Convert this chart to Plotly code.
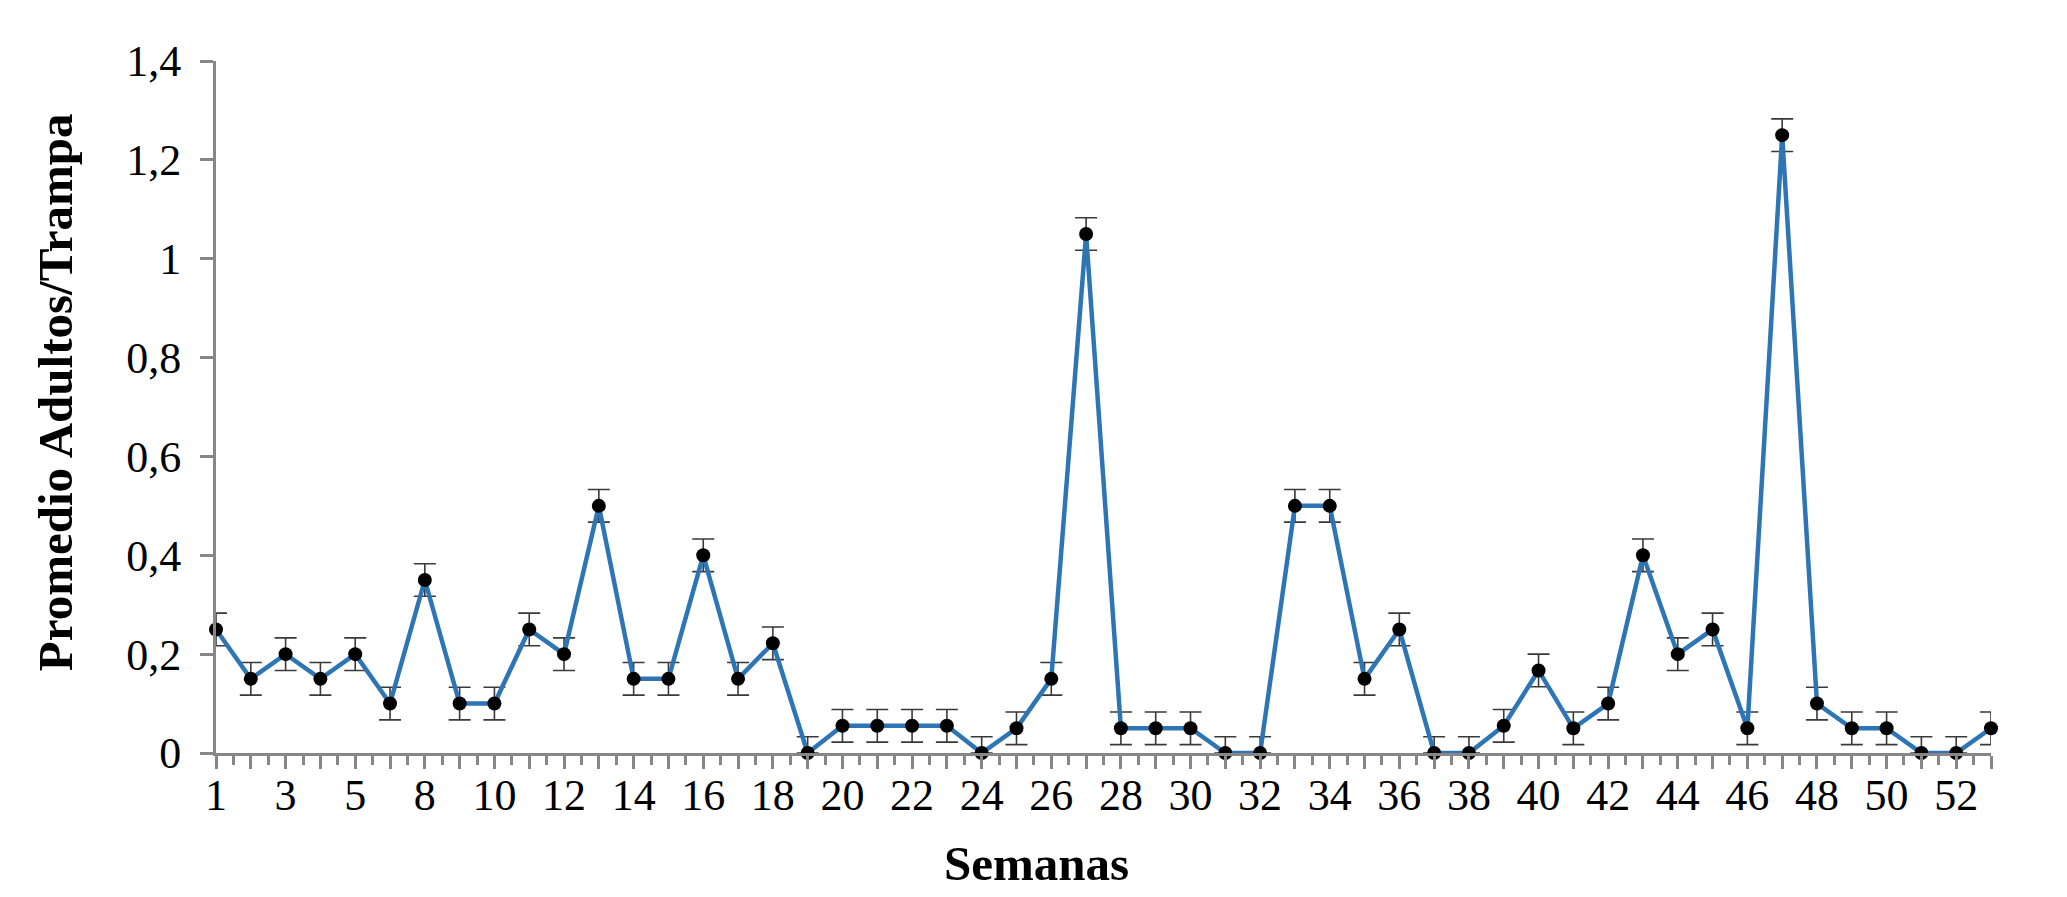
import plotly.graph_objects as go

# Weeks (categories) as shown on the x axis; one week is missing between 5 and 8
weeks = [1, 2, 3, 4, 5, 6, 8, 9, 10, 11, 12, 13, 14, 15, 16, 17, 18, 19, 20, 21,
         22, 23, 24, 25, 26, 27, 28, 29, 30, 31, 32, 33, 34, 35, 36, 37, 38, 39,
         40, 41, 42, 43, 44, 45, 46, 47, 48, 49, 50, 51, 52, 53]

# Mean adults per trap
promedio = [0.25, 0.15, 0.20, 0.15, 0.20, 0.10, 0.35, 0.10, 0.10, 0.25, 0.20,
            0.50, 0.15, 0.15, 0.40, 0.15, 0.222, 0.0, 0.055, 0.055, 0.055,
            0.055, 0.0, 0.05, 0.15, 1.05, 0.05, 0.05, 0.05, 0.0, 0.0, 0.50,
            0.50, 0.15, 0.25, 0.0, 0.0, 0.055, 0.167, 0.05, 0.10, 0.40, 0.20,
            0.25, 0.05, 1.25, 0.10, 0.05, 0.05, 0.0, 0.0, 0.05]

# Error (same for every week)
error = [0.033] * len(promedio)

y_ticks = [0, 0.2, 0.4, 0.6, 0.8, 1.0, 1.2, 1.4]

x_pos = list(range(len(weeks)))
tick_text = [str(w) if i % 2 == 0 else "" for i, w in enumerate(weeks)]
err_minus = [min(e, v) for e, v in zip(error, promedio)]

fig = go.Figure()
fig.add_trace(go.Scatter(
    x=x_pos, y=promedio, mode="lines+markers",
    line=dict(color="#2e75b6", width=4.5),
    marker=dict(color="black", size=14),
    error_y=dict(type="data", array=error, arrayminus=err_minus,
                 color="#3a3a3a", thickness=1.6, width=11),
    cliponaxis=False, showlegend=False,
))

FONT = "Liberation Serif"
AXIS_COL = "#878787"

fig.update_layout(
    width=2067, height=897,
    margin=dict(l=216, r=76, t=61, b=144),
    paper_bgcolor="white", plot_bgcolor="white",
    separators=", ",
    font=dict(family=FONT, color="black"),
    xaxis=dict(
        range=[0, len(weeks) - 1],
        tickmode="array", tickvals=x_pos, ticktext=tick_text,
        ticks="outside", ticklen=13, tickwidth=3, tickcolor=AXIS_COL,
        showline=True, linecolor=AXIS_COL, linewidth=3,
        showgrid=False, zeroline=False,
        tickfont=dict(family=FONT, size=44, color="black"),
        ticklabelstandoff=-12,
        minor=dict(tickmode="array",
                   tickvals=[i + 0.5 for i in x_pos[:-1]],
                   ticks="outside", ticklen=9, tickwidth=3,
                   tickcolor=AXIS_COL, showgrid=False),
    ),
    yaxis=dict(
        range=[0, 1.4],
        tickmode="array", tickvals=y_ticks,
        ticks="outside", ticklen=13, tickwidth=3, tickcolor=AXIS_COL,
        showline=True, linecolor=AXIS_COL, linewidth=3,
        showgrid=False, zeroline=False,
        tickfont=dict(family=FONT, size=44, color="black"),
        ticklabelstandoff=10,
    ),
    annotations=[
        dict(text="<b>Promedio Adultos/Trampa</b>", xref="paper", yref="paper",
             x=-0.0905, y=0.522, xanchor="center", yanchor="middle",
             textangle=-90, showarrow=False,
             font=dict(family=FONT, size=49, color="black")),
        dict(text="<b>Semanas</b>", xref="paper", yref="paper",
             x=0.4625, y=-0.159, xanchor="center", yanchor="middle",
             showarrow=False,
             font=dict(family=FONT, size=49, color="black")),
    ],
)

fig.write_html("out.html",
               config={"displayModeBar": False},
               post_script="document.body.style.margin='0';"
                           "document.body.style.overflow='hidden';")
